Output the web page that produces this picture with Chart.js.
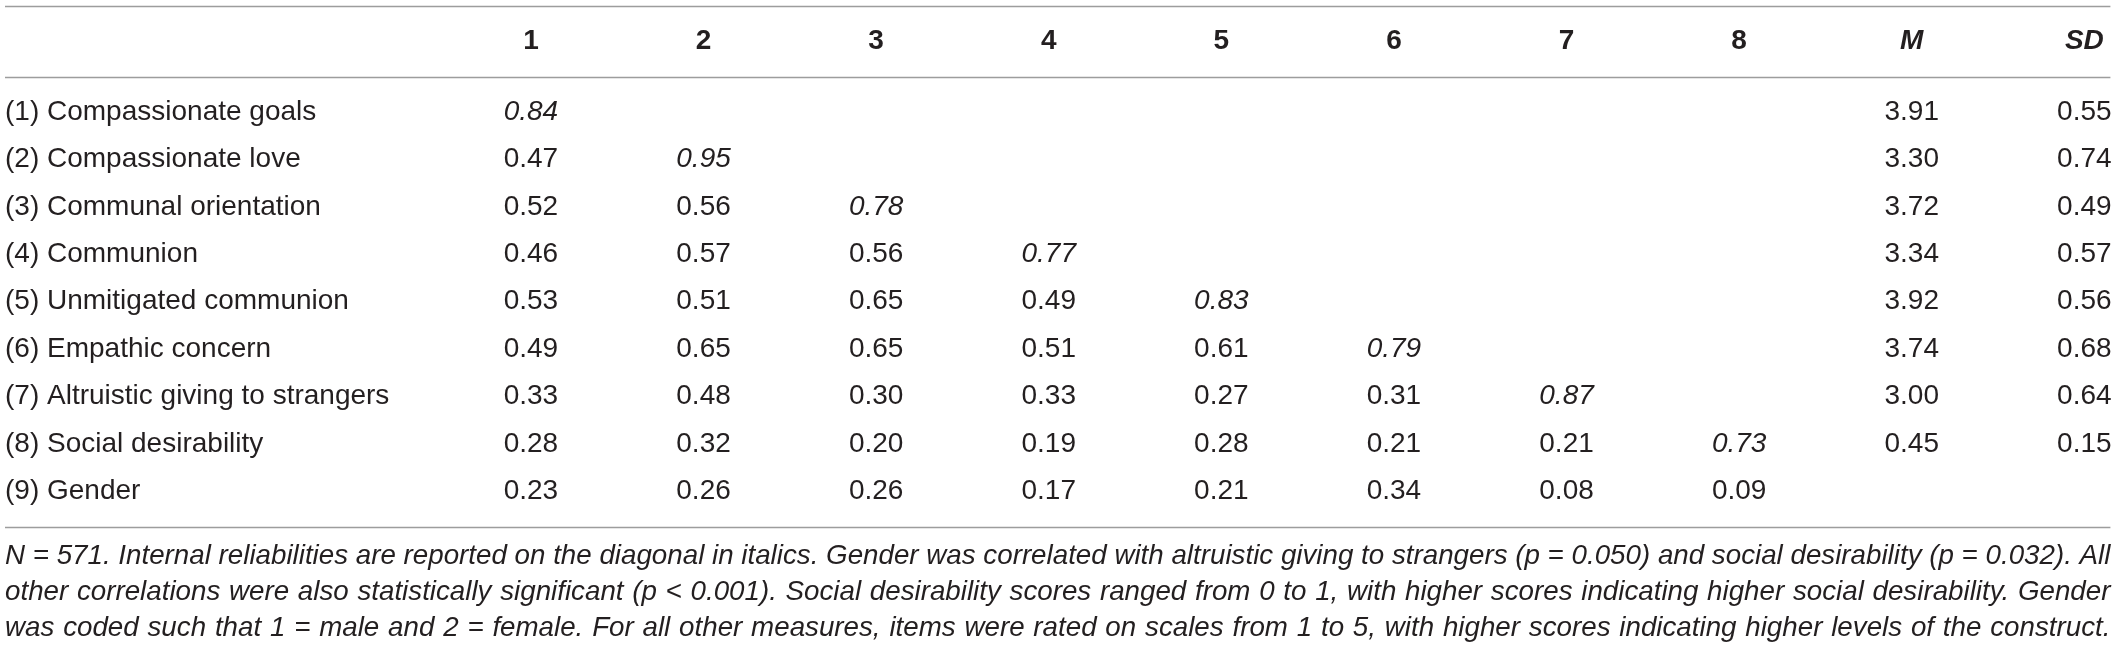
<!DOCTYPE html>
<html>
<head>
<meta charset="utf-8">
<script src="https://cdn.jsdelivr.net/npm/chart.js@4.4.1/dist/chart.umd.min.js"></script>
<style>
html,body{margin:0;padding:0;background:#fff;}
#wrap{width:2118px;height:650px;}
</style>
</head>
<body>
<div id="wrap"><canvas id="c" width="2118" height="650"></canvas></div>
<script>
// ---- data ----
const columnHeaders = ["1","2","3","4","5","6","7","8","M","SD"];
const rowLabels = [
  "(1) Compassionate goals",
  "(2) Compassionate love",
  "(3) Communal orientation",
  "(4) Communion",
  "(5) Unmitigated communion",
  "(6) Empathic concern",
  "(7) Altruistic giving to strangers",
  "(8) Social desirability",
  "(9) Gender"
];
const corrRow1 = [0.84];
const corrRow2 = [0.47, 0.95];
const corrRow3 = [0.52, 0.56, 0.78];
const corrRow4 = [0.46, 0.57, 0.56, 0.77];
const corrRow5 = [0.53, 0.51, 0.65, 0.49, 0.83];
const corrRow6 = [0.49, 0.65, 0.65, 0.51, 0.61, 0.79];
const corrRow7 = [0.33, 0.48, 0.30, 0.33, 0.27, 0.31, 0.87];
const corrRow8 = [0.28, 0.32, 0.20, 0.19, 0.28, 0.21, 0.21, 0.73];
const corrRow9 = [0.23, 0.26, 0.26, 0.17, 0.21, 0.34, 0.08, 0.09];
const means = [3.91, 3.30, 3.72, 3.34, 3.92, 3.74, 3.00, 0.45, null];
const sds   = [0.55, 0.74, 0.49, 0.57, 0.56, 0.68, 0.64, 0.15, null];
const footnoteLines = [
  "N = 571. Internal reliabilities are reported on the diagonal in italics. Gender was correlated with altruistic giving to strangers (p = 0.050) and social desirability (p = 0.032). All",
  "other correlations were also statistically significant (p  <  0.001). Social desirability scores ranged from 0 to 1, with higher scores indicating higher social desirability. Gender",
  "was coded such that 1 = male and 2 = female. For all other measures, items were rated on scales from 1 to 5, with higher scores indicating higher levels of the construct."
];

// ---- layout constants (value space of the scales) ----
const X_MIN = -3.076, X_MAX = 9.195;
const Y_MIN = -1.363, Y_MAX = 12.35;
const LABEL_X = -3.047;      // left edge of row labels / rules
const RIGHT_X = 9.151;       // right edge of rules / footnote
const HEADER_Y = -0.487;
const RULES_Y = [-1.236, 0.262, 9.745];
const FOOT_Y = [10.37, 11.13, 11.89];

const FONT = '"Liberation Sans", Arial, sans-serif';
const TEXT = '#231f20';

const corrRows = [corrRow1,corrRow2,corrRow3,corrRow4,corrRow5,corrRow6,corrRow7,corrRow8,corrRow9];

const cellPts = [];
corrRows.forEach((row, r) => {
  row.forEach((v, c) => cellPts.push({x: c, y: r + 1, v: v.toFixed(2), italic: c === r}));
});
means.forEach((v, r) => { if (v !== null) cellPts.push({x: 8, y: r + 1, v: v.toFixed(2), italic: false}); });
sds.forEach((v, r) => { if (v !== null) cellPts.push({x: 9, y: r + 1, v: v.toFixed(2), italic: false}); });

const headerPts = columnHeaders.map((h, i) => ({x: i, y: HEADER_Y, v: h, italic: i >= 8}));
const labelPts = rowLabels.map((l, r) => ({x: LABEL_X, y: r + 1, v: l}));

const tablePlugin = {
  id: 'tablePlugin',
  afterDatasetsDraw(chart) {
    const ctx = chart.ctx;
    const xs = chart.scales.x, ys = chart.scales.y;
    const left = xs.getPixelForValue(LABEL_X);
    const right = xs.getPixelForValue(RIGHT_X);
    ctx.save();
    // rules
    ctx.strokeStyle = '#9d9d9d';
    ctx.lineWidth = 1.6;
    RULES_Y.forEach(yv => {
      const py = Math.round(ys.getPixelForValue(yv)) + 0.5;
      ctx.beginPath();
      ctx.moveTo(left, py);
      ctx.lineTo(right, py);
      ctx.stroke();
    });
    ctx.fillStyle = TEXT;
    ctx.textBaseline = 'middle';
    // header
    chart.getDatasetMeta(0).data.forEach((el, i) => {
      const d = headerPts[i];
      ctx.font = (d.italic ? 'italic ' : '') + 'bold 28px ' + FONT;
      ctx.textAlign = 'center';
      ctx.fillText(d.v, el.x, el.y);
    });
    // row labels
    chart.getDatasetMeta(1).data.forEach((el, i) => {
      ctx.font = '28px ' + FONT;
      ctx.textAlign = 'left';
      ctx.fillText(labelPts[i].v, el.x, el.y);
    });
    // cells
    chart.getDatasetMeta(2).data.forEach((el, i) => {
      const d = cellPts[i];
      ctx.font = (d.italic ? 'italic ' : '') + '28px ' + FONT;
      ctx.textAlign = 'center';
      ctx.fillText(d.v, el.x, el.y);
    });
    // footnote: size fitted so the first line fills the width, then justified
    ctx.font = 'italic 26px ' + FONT;
    const nat = ctx.measureText(footnoteLines[0]).width;
    const fs = Math.min(29, 26 * (right - left) / nat);
    ctx.font = 'italic ' + fs.toFixed(2) + 'px ' + FONT;
    ctx.textAlign = 'left';
    footnoteLines.forEach((line, li) => {
      const words = line.split(/\s+/);
      const widths = words.map(w => ctx.measureText(w).width);
      const total = widths.reduce((a, b) => a + b, 0);
      const gap = (right - left - total) / (words.length - 1);
      let x = left;
      const py = ys.getPixelForValue(FOOT_Y[li]);
      words.forEach((w, k) => { ctx.fillText(w, x, py); x += widths[k] + gap; });
    });
    ctx.restore();
  }
};

new Chart(document.getElementById('c'), {
  type: 'scatter',
  data: {
    datasets: [
      {data: headerPts, pointRadius: 0},
      {data: labelPts, pointRadius: 0},
      {data: cellPts, pointRadius: 0}
    ]
  },
  options: {
    responsive: false,
    animation: false,
    devicePixelRatio: 1,
    events: [],
    layout: {padding: 0},
    plugins: {legend: {display: false}, tooltip: {enabled: false}, title: {display: false}},
    scales: {
      x: {type: 'linear', display: false, min: X_MIN, max: X_MAX},
      y: {type: 'linear', display: false, reverse: true, min: Y_MIN, max: Y_MAX}
    }
  },
  plugins: [tablePlugin]
});
</script>
</body>
</html>
